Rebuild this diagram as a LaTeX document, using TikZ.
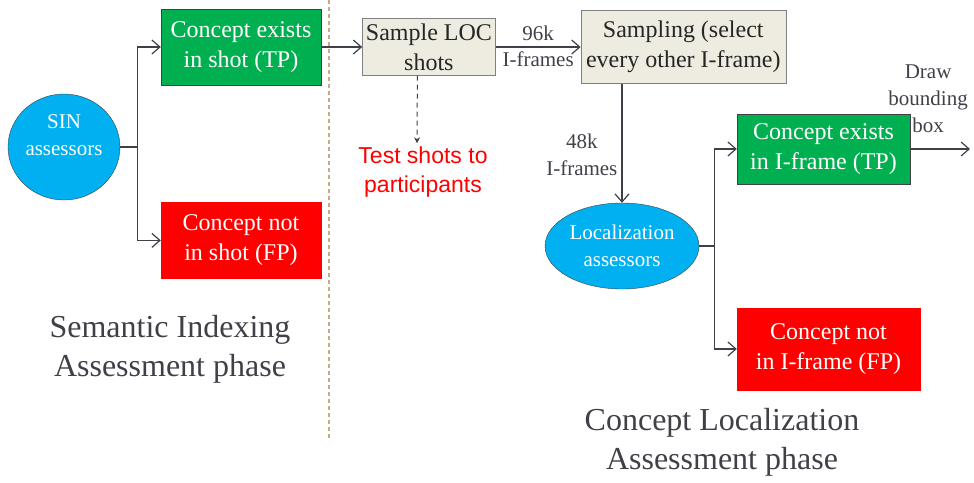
\documentclass[tikz,border=0pt]{standalone}
\usepackage{fontspec}
\setmainfont{Liberation Serif}
\newfontfamily\arialfont{Liberation Sans}
\usetikzlibrary{positioning,shapes.geometric,arrows.meta}

\definecolor{sinblue}{RGB}{0,176,240}
\definecolor{tpgreen}{RGB}{0,176,80}
\definecolor{fpred}{RGB}{255,0,0}
\definecolor{beige}{RGB}{238,236,225}
\definecolor{linegray}{RGB}{64,64,72}
\definecolor{septan}{RGB}{200,170,135}

\tikzset{
  box/.style={rectangle, draw=linegray, align=center, inner sep=2pt,
    font=\fontsize{24}{30}\selectfont},
  tpbox/.style={box, fill=tpgreen, text=white},
  fpbox/.style={box, fill=fpred, draw=fpred, text=white},
  smpbox/.style={box, fill=beige, draw=gray, text=black!85},
  who/.style={ellipse, draw=linegray, fill=sinblue, text=white, align=center,
    inner sep=0pt, font=\fontsize{21}{27}\selectfont},
  lbl/.style={align=center, text=linegray, inner sep=4pt,
    font=\fontsize{21}{27}\selectfont},
  tstlbl/.style={align=center, text=fpred, font=\arialfont\fontsize{23}{29}\selectfont},
  phase/.style={align=center, text=linegray, font=\fontsize{32}{39}\selectfont},
  arr/.style={-{Straight Barb[length=8pt,width=14pt]}, draw=linegray, line width=1.2pt},
  dasharr/.style={-{Stealth[length=6pt,width=6pt]}, draw=linegray, line width=1pt,
    dash pattern=on 5pt off 4pt},
  sep/.style={draw=septan, line width=1.2pt, dash pattern=on 4pt off 3pt}
}

\begin{document}
\begin{tikzpicture}[x=1pt,y=-1pt]
      \useasboundingbox (0,0) rectangle (974,482);

      % semantic indexing side
      \node[who, minimum width=112pt, minimum height=106pt, text depth=24pt] (sin) at (64,147) {SIN\\assessors};
      \node[tpbox, minimum width=160pt, minimum height=76pt] (tp1) at (241,47) {Concept exists\\in shot (TP)};
      \node[fpbox, minimum width=160pt, minimum height=76pt, below=117pt of tp1] (fp1) {Concept not\\in shot (FP)};
      \node[phase] (sia) at (170,349) {Semantic Indexing\\Assessment phase};

      \draw[sep] (329,0) -- (329,441);

      % localization side
      \node[smpbox, minimum width=133pt, minimum height=57pt, right=41pt of tp1] (loc) {Sample LOC\\shots};
      \node[smpbox, minimum width=205pt, minimum height=73pt, right=85pt of loc] (smp) {Sampling (select\\every other I-frame)};
      \node[tstlbl] (tst) at (423,172) {Test shots to\\participants};
      \node[who, minimum width=154pt, minimum height=86pt] (las) at (622,246) {Localization\\assessors};
      \node[tpbox, minimum width=173pt, minimum height=70pt] (tp2) at (823.5,149) {Concept exists\\in I-frame (TP)};
      \node[fpbox, minimum width=183pt, minimum height=82pt] (fp2) at (828.5,349) {Concept not\\in I-frame (FP)};
      \coordinate (end) at (970,149);
      \node[phase] (cla) at (722,442) {Concept Localization\\Assessment phase};

      \draw[arr] (sin.east) -- ++(17,0) |- (tp1.west);
      \draw[arr] (sin.east) -- ++(17,0) |- (fp1.west);
      \draw[arr] (tp1.east) -- (loc.west);
      \draw[arr] (loc.east) -- node[lbl, above, inner sep=6pt] {96k} node[lbl, below] {I-frames} (smp.west);
      \draw[dasharr] ([xshift=-11.5pt]loc.south) -- ([xshift=-6pt]tst.north);
      \draw[arr] (las.north |- smp.south) -- node[lbl, left, pos=.6] {48k\\I-frames} (las.north);
      \draw[arr] (las.east) -- ++(15,0) |- (tp2.west);
      \draw[arr] (las.east) -- ++(15,0) |- (fp2.west);
      \draw[arr] (tp2.east) -- node[lbl, above, pos=.3, yshift=12pt] {Draw\\bounding\\box} (end);
\end{tikzpicture}
\end{document}
